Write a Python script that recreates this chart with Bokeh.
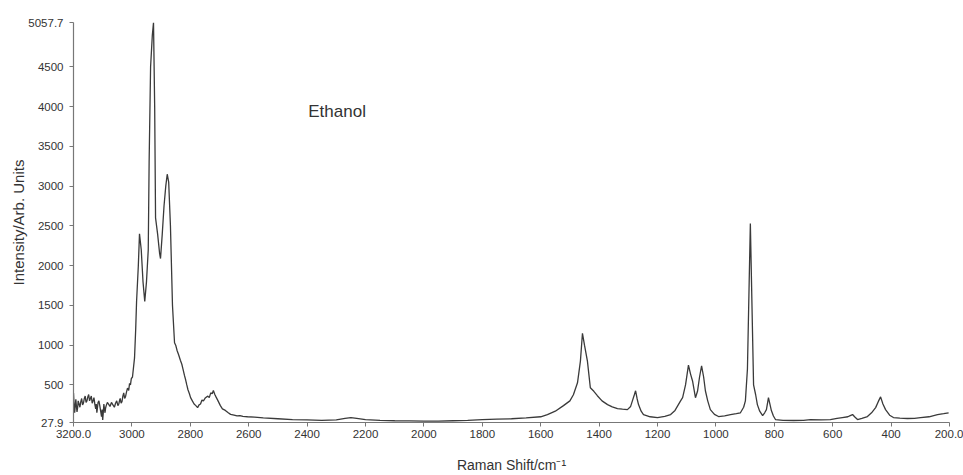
from bokeh.plotting import figure
from bokeh.models import Range1d, FixedTicker, Label
from bokeh.embed import file_html
from bokeh.resources import INLINE

# Raman shift (cm^-1) and intensity (arb. units)
shift = [
    3200, 3198, 3196, 3194, 3192, 3190, 3188, 3186, 3184, 3181, 3178, 3175, 3172, 3169,
    3166, 3163, 3160, 3157, 3154, 3151, 3148, 3145, 3142, 3139, 3136, 3133, 3130, 3127,
    3124, 3122, 3120, 3118, 3116, 3113, 3110, 3107, 3104, 3102, 3100, 3098, 3096, 3094,
    3092, 3090, 3088, 3084, 3080, 3075, 3070, 3065, 3060, 3056, 3052, 3048, 3045, 3042,
    3040, 3037, 3034, 3031, 3028, 3025, 3022, 3018, 3015, 3011, 3008, 3005, 3002, 2998,
    2991, 2987, 2984, 2978, 2974, 2968,
    2962, 2956, 2950, 2944, 2941, 2936, 2930, 2926, 2922, 2919, 2912, 2905, 2902, 2896,
    2890, 2884, 2879, 2874, 2868, 2861, 2854, 2850, 2845, 2840, 2834, 2829, 2825, 2820,
    2816, 2812, 2808, 2803, 2799, 2793, 2787, 2781, 2775, 2770, 2765, 2760, 2755, 2748,
    2740, 2735, 2730, 2725, 2721, 2716, 2712, 2705, 2697, 2690, 2680, 2670, 2662, 2650,
    2640, 2630, 2620, 2604,
    2580, 2550, 2500, 2450, 2400, 2350, 2300, 2270, 2250, 2230, 2200, 2150, 2100, 2050,
    2000, 1950, 1900, 1850, 1800, 1750, 1700, 1650, 1600, 1577, 1550, 1522, 1500, 1488,
    1474, 1464, 1457, 1450, 1440, 1430, 1418, 1406, 1390, 1371, 1355, 1337, 1320, 1303,
    1292, 1286, 1279, 1275, 1270, 1265, 1256, 1248, 1225, 1200, 1175, 1155, 1140, 1121,
    1114, 1104, 1094, 1087, 1080, 1070, 1063, 1056, 1049, 1042, 1036, 1028, 1019, 1005,
    991, 970, 950, 930, 916, 905, 899, 892, 886, 882, 877, 871, 864, 858, 850, 840,
    833, 827, 820, 815, 810, 803, 796, 770, 734, 700, 676, 640, 608, 585, 567, 548,
    540, 532, 525, 515, 500, 481, 467, 453, 444, 436, 428, 419, 405, 392, 370, 344,
    320, 299, 270, 241, 220, 203
]
intensity = [
    400, 250, 150, 240, 320, 230, 160, 210, 300, 260, 220, 290, 330, 250,
    270, 330, 360, 280, 300, 350, 380, 300, 330, 360, 270, 300, 340, 260,
    200, 260, 150, 210, 280, 300, 240, 170, 100, 190, 60, 150, 260, 200,
    150, 210, 240, 280, 260, 230, 280, 250, 220, 270, 300, 240, 260, 310,
    330, 270, 290, 360, 400, 330, 350, 420, 460, 430, 520, 500, 580, 600,
    840, 1200, 1550, 2000, 2400, 2200,
    1800, 1550, 1800, 2200, 3300, 4500, 4900, 5057.7, 4000, 2600, 2400, 2150, 2090, 2400,
    2750, 3000, 3150, 3050, 2500, 1500, 1030, 1000, 930, 880, 810, 760, 700, 620,
    565, 500, 440, 390, 340, 300, 260, 240, 215, 250, 260, 310, 300, 340,
    360, 340, 400, 390, 430, 380, 350, 300, 240, 200, 180, 150, 130, 120,
    110, 115, 105, 100,
    95, 85, 75, 65, 60, 55, 60, 80, 90, 80, 65, 55, 50, 48,
    45, 45, 50, 55, 65, 70, 75, 85, 100, 128, 170, 240, 300, 377,
    527, 800, 1150, 1000, 800, 465, 420, 365, 300, 253, 225, 203, 195, 190,
    230, 300, 380, 427, 330, 253, 170, 128, 100, 90, 105, 128, 180, 300,
    340, 500, 750, 640, 550, 340, 420, 600, 740, 600, 427, 300, 190, 130,
    103, 110, 128, 140, 150, 220, 300, 700, 1800, 2530, 1600, 500, 380, 253, 170, 115,
    150, 190, 340, 260, 178, 110, 65, 55, 53, 55, 65, 60, 65, 80, 90, 100,
    115, 128, 100, 65, 80, 103, 150, 215, 290, 350, 260, 190, 120, 90, 82, 78,
    80, 90, 100, 128, 140, 150
]

y_ticks = [27.9, 500, 1000, 1500, 2000, 2500, 3000, 3500, 4000, 4500, 5057.7]
y_tick_labels = ["27.9", "500", "1000", "1500", "2000", "2500", "3000", "3500", "4000", "4500", "5057.7"]
x_ticks = [3200, 3000, 2800, 2600, 2400, 2200, 2000, 1800, 1600, 1400, 1200, 1000, 800, 600, 400, 200]
x_tick_labels = ["3200.0", "3000", "2800", "2600", "2400", "2200", "2000", "1800", "1600",
                 "1400", "1200", "1000", "800", "600", "400", "200.0"]

FONT = "Liberation Sans"
TXT = "#333333"

p = figure(width=963, height=475, output_backend="svg", toolbar_location=None,
           x_range=Range1d(3200, 200), y_range=Range1d(27.9, 5057.7),
           min_border_left=73, min_border_right=14, min_border_top=22, min_border_bottom=50)

p.line(shift, intensity, line_color="#3a3a3a", line_width=1.3)

p.xgrid.visible = False
p.ygrid.visible = False
p.outline_line_color = None

for ax in (p.xaxis[0], p.yaxis[0]):
    ax.axis_line_color = "#777777"
    ax.axis_line_width = 1.2
    ax.major_tick_line_color = "#777777"
    ax.major_tick_in = 0
    ax.major_tick_out = 4
    ax.minor_tick_line_color = None
    ax.major_label_text_font = FONT
    ax.major_label_text_font_size = "11.5px"
    ax.major_label_text_color = TXT
    ax.axis_label_text_font = FONT
    ax.axis_label_text_font_style = "normal"
    ax.axis_label_text_color = TXT

p.xaxis.ticker = FixedTicker(ticks=x_ticks)
p.xaxis.major_label_overrides = {t: l for t, l in zip(x_ticks, x_tick_labels)}
p.xaxis.major_label_standoff = 3
p.xaxis.axis_label = "Raman Shift/cm\u207b\u00b9"
p.xaxis.axis_label_text_font_size = "14px"
p.xaxis.axis_label_standoff = 16

p.yaxis.ticker = FixedTicker(ticks=y_ticks)
p.yaxis.major_label_overrides = {t: l for t, l in zip(y_ticks, y_tick_labels)}
p.yaxis.major_label_standoff = 6
p.yaxis.axis_label = "Intensity/Arb. Units"
p.yaxis.axis_label_text_font_size = "15px"
p.yaxis.axis_label_standoff = -2

p.add_layout(Label(x=2396, y=3935, text="Ethanol", text_font=FONT, text_font_size="17px",
                   text_color=TXT, text_baseline="middle", text_align="left"))

open("out.html", "w").write(file_html(p, INLINE))
